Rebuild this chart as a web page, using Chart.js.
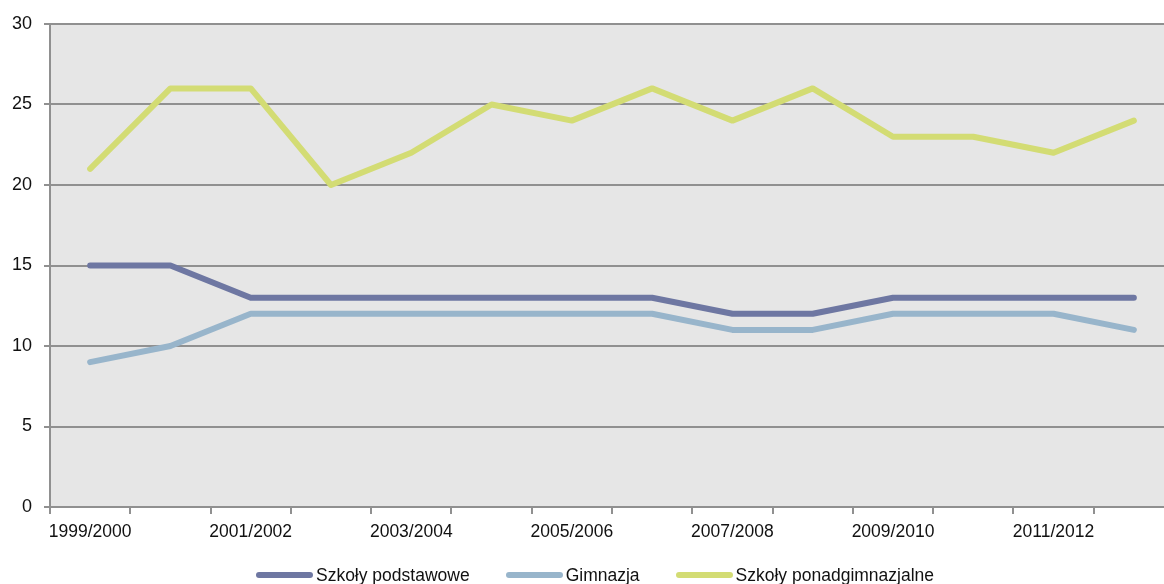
<!DOCTYPE html>
<html>
<head>
<meta charset="utf-8">
<script src="https://cdn.jsdelivr.net/npm/chart.js@4"></script>
<style>
  html, body { margin: 0; padding: 0; background: #fff; overflow: hidden; }
  #wrap { position: relative; width: 1194px; height: 584px; }
  #legend { position: absolute; left: -2px; width: 1194px; top: 564px; text-align: center;
            font-family: 'Liberation Sans', Arial, sans-serif; font-size: 17.5px; color: #111; line-height: 22px; }
  .item { display: inline-block; margin: 0 18px; white-space: nowrap; }
  .swatch { display: inline-block; width: 57px; height: 6px; border-radius: 3px; vertical-align: middle; margin-right: 3px; position: relative; top: -1px; }
</style>
</head>
<body>
<div id="wrap">
  <canvas id="lineChart" width="1194" height="584"></canvas>
  <div id="legend"></div>
</div>
<script>
var YEARS = ['1999/2000','2000/2001','2001/2002','2002/2003','2003/2004','2004/2005','2005/2006',
             '2006/2007','2007/2008','2008/2009','2009/2010','2010/2011','2011/2012','2012/2013'];
var PODSTAWOWE = [15,15,13,13,13,13,13,13,12,12,13,13,13,13];
var GIMNAZJA = [9,10,12,12,12,12,12,12,11,11,12,12,12,11];
var PONADGIMNAZJALNE = [21,26,26,20,22,25,24,26,24,26,23,23,22,24];
var SERIES_NAMES = ['Szkoły podstawowe','Gimnazja','Szkoły ponadgimnazjalne'];
var SERIES_COLORS = ['#6e77a2','#98b5cb','#d3dc74'];
var Y_MIN = 0, Y_MAX = 30, Y_STEP = 5;

var FONT = "'Liberation Sans', Arial, sans-serif";
var GRID = '#909090';

// grey plot background
var plotBg = {
  id: 'plotBg',
  beforeDraw: function(chart) {
    var a = chart.chartArea, ctx = chart.ctx;
    ctx.save();
    ctx.fillStyle = '#e6e6e6';
    ctx.fillRect(a.left, a.top, a.right - a.left, a.bottom - a.top);
    ctx.restore();
  }
};

// html legend built from the datasets (needs tighter spacing than the built-in one)
var htmlLegend = {
  id: 'htmlLegend',
  afterUpdate: function(chart) {
    var box = document.getElementById('legend');
    box.innerHTML = '';
    chart.data.datasets.forEach(function(ds) {
      var item = document.createElement('span');
      item.className = 'item';
      var sw = document.createElement('span');
      sw.className = 'swatch';
      sw.style.background = ds.borderColor;
      item.appendChild(sw);
      item.appendChild(document.createTextNode(ds.label));
      box.appendChild(item);
    });
  }
};

function makeDataset(i, values)
{
  return {
    label: SERIES_NAMES[i],
    data: values,
    borderColor: SERIES_COLORS[i],
    backgroundColor: SERIES_COLORS[i],
    borderWidth: 6,
    borderCapStyle: 'round',
    borderJoinStyle: 'round',
    pointRadius: 0,
    tension: 0,
    fill: false
  };
}

var ctx = document.getElementById('lineChart');
var myChart = new Chart(ctx, {
  type: 'line',
  data: {
    labels: YEARS,
    datasets: [makeDataset(0, PODSTAWOWE), makeDataset(1, GIMNAZJA), makeDataset(2, PONADGIMNAZJALNE)]
  },
  options: {
    responsive: false,
    animation: false,
    layout: { padding: { top: 24, right: 20, left: 0, bottom: 37 } },
    plugins: {
      tooltip: { enabled: false },
      legend: { display: false }
    },
    scales: {
      x: {
        offset: true,
        grid: { offset: true, drawOnChartArea: false, drawTicks: true, tickLength: 7, tickColor: GRID, lineWidth: 2 },
        border: { color: GRID, width: 2 },
        ticks: {
          autoSkip: false,
          maxRotation: 0,
          padding: 8,
          color: '#111',
          font: { family: FONT, size: 17.5 },
          callback: function(v, i) { return i % 2 === 0 ? YEARS[i] : ''; }
        },
        afterFit: function(scale) { scale.height = 40; }
      },
      y: {
        min: Y_MIN,
        max: Y_MAX,
        grid: { color: GRID, lineWidth: 2, tickLength: 6, tickColor: GRID },
        border: { color: GRID, width: 2 },
        ticks: {
          stepSize: Y_STEP,
          padding: 12,
          color: '#111',
          font: { family: FONT, size: 18 }
        },
        afterFit: function(scale) { scale.width = 50; }
      }
    }
  },
  plugins: [plotBg, htmlLegend]
});
</script>
</body>
</html>
